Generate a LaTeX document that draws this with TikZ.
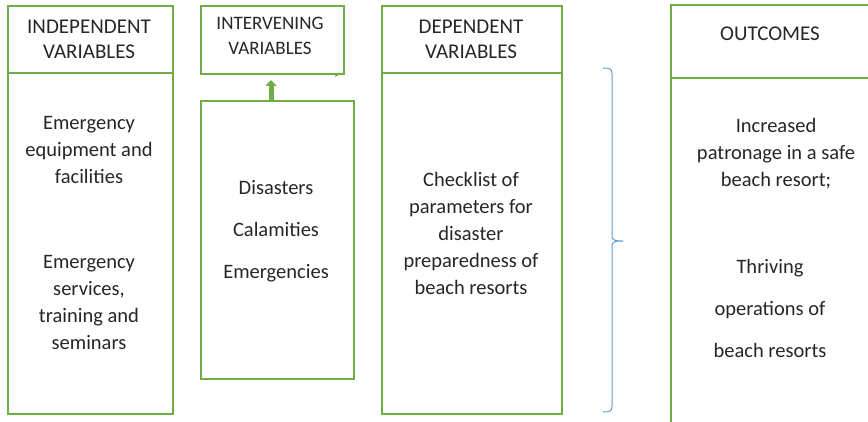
\documentclass[tikz,border=0pt]{standalone}
\usepackage{fontspec}
\setmainfont{Carlito}
\usetikzlibrary{arrows.meta}
\definecolor{gr}{HTML}{70AD47}
\definecolor{bl}{HTML}{5B9BD5}
\definecolor{tx}{HTML}{262626}
\begin{document}
\begin{tikzpicture}[x=1pt,y=-1pt,
  box/.style={draw=gr,line width=1.6pt,anchor=north west,inner sep=0pt},
  txt/.style={text=tx,font=\fontsize{20.5}{27}\selectfont,align=center,inner sep=0pt},
  hdr/.style={text=tx,font=\fontsize{21}{25}\selectfont,align=center,inner sep=0pt}]
\useasboundingbox (0,0) rectangle (868,422);
% Independent
\node[box,minimum width=165pt,minimum height=67pt] (ih) at (7,5) {};
\node[box,minimum width=165pt,minimum height=341pt] (ib) at (7,72) {};
\node[hdr] (iht) at (89,39) {INDEPENDENT\\VARIABLES};
\node[txt] (ib1) at (89,150) {Emergency\\equipment and\\facilities};
\node[txt] (ib2) at (89,302) {Emergency\\services,\\training and\\seminars};
% Intervening
\node[box,minimum width=143pt,minimum height=68pt] (vh) at (200,5) {};
\fill[gr] (335,77) -- (343,73) -- (336,73) -- cycle;
\node[box,minimum width=153pt,minimum height=278pt] (vb) at (200,100) {};
\node[hdr,font=\fontsize{19}{25}\selectfont] (vht) at (270,36) {INTERVENING\\VARIABLES};
\node[txt,font=\fontsize{20.5}{42}\selectfont] (vbt) at (276,231) {Disasters\\Calamities\\Emergencies};
\draw[gr,line width=5pt,-{Triangle[width=11pt,length=6pt]}] (vb.north -| 271,0) -- (271,80);
% Dependent
\node[box,minimum width=180pt,minimum height=67pt] (dh) at (381,5) {};
\node[box,minimum width=180pt,minimum height=341pt] (db) at (381,72) {};
\node[hdr] (dht) at (471,39) {DEPENDENT\\VARIABLES};
\node[txt] (dbt) at (471,233) {Checklist of\\parameters for\\disaster\\preparedness of\\beach resorts};
% Brace
\draw[bl,line width=1pt] (603,68) .. controls (610,68) and (612,69) .. (612,74)
  -- (612,236) .. controls (612,240) and (614,241) .. (623,241)
  .. controls (614,241) and (612,242) .. (612,246)
  -- (612,406) .. controls (612,411) and (610,412) .. (603,412);
% Outcomes
\coordinate (otl) at (671,5);
\coordinate (otr) at (870,5);
\coordinate (oml) at (671,78);
\coordinate (omr) at (870,78);
\coordinate (obl) at (671,424);
\draw[gr,line width=1.6pt] (otr) -- (otl) -- (obl);
\draw[gr,line width=1.6pt] (oml) -- (omr);
\node[hdr] (oht) at (770,34) {OUTCOMES};
\node[txt] (ob1) at (776,154) {Increased\\patronage in a safe\\beach resort;};
\node[txt,font=\fontsize{20.5}{42}\selectfont] (ob2) at (770,308) {Thriving\\operations of\\beach resorts};
\end{tikzpicture}
\end{document}
